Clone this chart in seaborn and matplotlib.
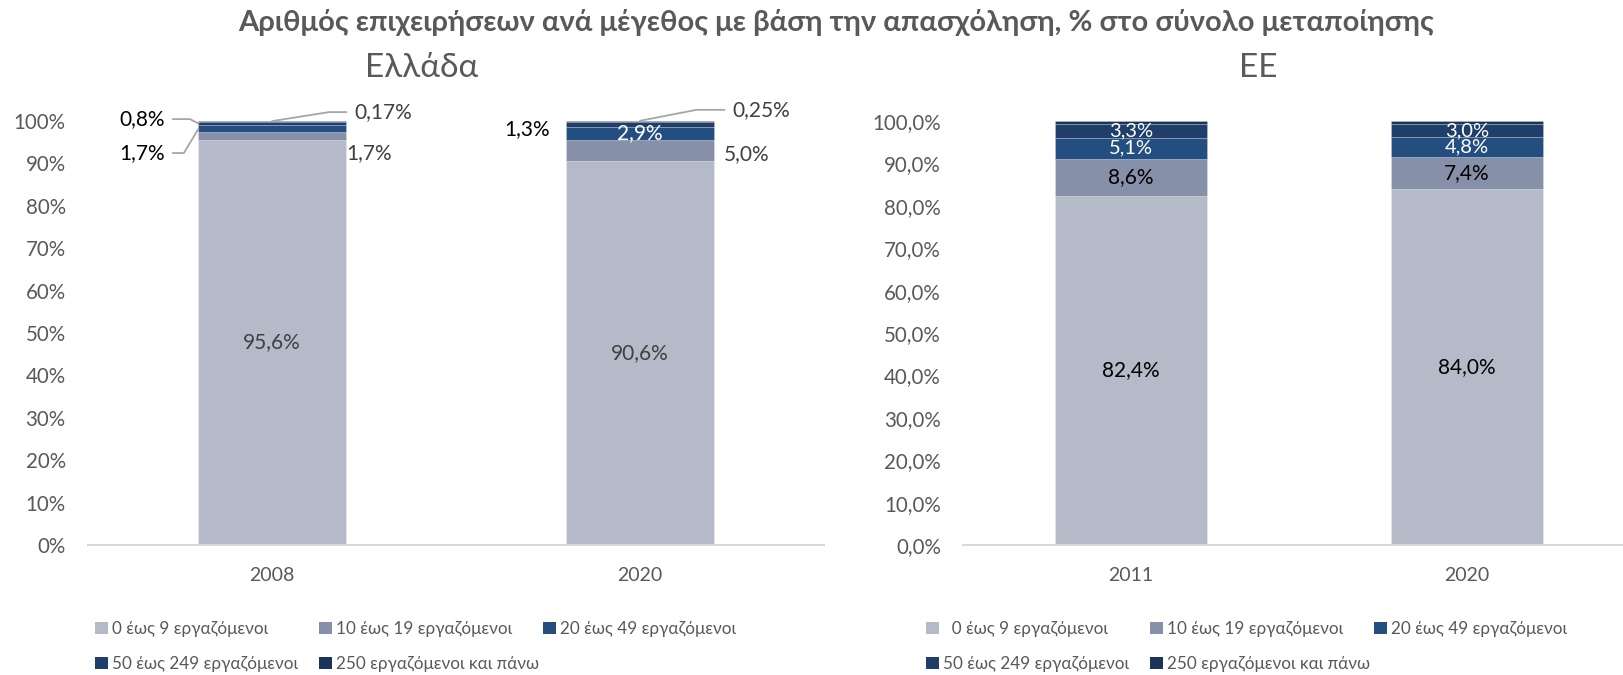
import numpy as np
import pandas as pd
import matplotlib
matplotlib.use("Agg")
import matplotlib.pyplot as plt
import seaborn as sns
from matplotlib.patches import Patch

sns.set_theme(style="white")
plt.rcParams['font.family'] = ['Lato', 'Noto Sans', 'DejaVu Sans']

# Size classes (employment) and their colours
size_classes = ["0 έως 9 εργαζόμενοι", "10 έως 19 εργαζόμενοι", "20 έως 49 εργαζόμενοι",
                "50 έως 249 εργαζόμενοι", "250 εργαζόμενοι και πάνω"]
colors = ["#B4BAC8", "#8690A8", "#244E80", "#1F3F6A", "#1B3459"]

# Greece
gr_years = ["2008", "2020"]
gr_0_9 = [95.6, 90.6]
gr_10_19 = [1.7, 5.0]
gr_20_49 = [1.7, 2.9]
gr_50_249 = [0.8, 1.3]
gr_250 = [0.17, 0.25]

# EU
eu_years = ["2011", "2020"]
eu_0_9 = [82.4, 84.0]
eu_10_19 = [8.6, 7.4]
eu_20_49 = [5.1, 4.8]
eu_50_249 = [3.3, 3.0]
eu_250 = [0.6, 0.8]

gr_ticks = ["0%", "10%", "20%", "30%", "40%", "50%", "60%", "70%", "80%", "90%", "100%"]
eu_ticks = ["0,0%", "10,0%", "20,0%", "30,0%", "40,0%", "50,0%", "60,0%", "70,0%", "80,0%", "90,0%", "100,0%"]

GREY = "#595959"
DARK = "#404040"
LEAD = "#A6A6A6"
LBL = 15


def pct(v, dec=1):
    return f"{v:.{dec}f}%".replace(".", ",")


def stacked(ax, years, series, width):
    bottom = np.zeros(len(years))
    conts = []
    for vals, col in zip(series, colors):
        df = pd.DataFrame({"year": years, "share": vals})
        sns.barplot(data=df, x="year", y="share", color=col, saturation=1,
                    width=width, bottom=bottom.copy(), errorbar=None, ax=ax,
                    edgecolor=(1, 1, 1, 0.25), linewidth=0.6)
        conts.append(ax.containers[-1])
        bottom += np.asarray(vals, dtype=float)
    return conts


def style_axes(ax, ticklabels, xlim, ypad):
    ax.set_ylim(0, 100)
    ax.set_xlim(*xlim)
    ax.set_yticks(np.arange(0, 101, 10))
    ax.set_yticklabels(ticklabels)
    ax.set_xlabel("")
    ax.set_ylabel("")
    for s in ["top", "right", "left"]:
        ax.spines[s].set_visible(False)
    ax.spines["bottom"].set_color("#D9D9D9")
    ax.spines["bottom"].set_linewidth(1.5)
    ax.tick_params(axis="y", length=0, pad=ypad, labelsize=14.8, labelcolor=GREY)
    ax.tick_params(axis="x", length=0, pad=16, labelsize=14, labelcolor=GREY)
    ax.grid(False)


fig = plt.figure(figsize=(16.24, 6.75), dpi=100)
fig.patch.set_facecolor("white")
W, H = 1624, 675
ax1 = fig.add_axes([88 / W, 130 / H, 736 / W, 424 / H])
ax2 = fig.add_axes([963 / W, 130 / H, 661 / W, 424 / H])

# --- Greece ---
gc = stacked(ax1, gr_years, [gr_0_9, gr_10_19, gr_20_49, gr_50_249, gr_250], 0.40)
style_axes(ax1, gr_ticks, (-0.5, 1.5), 16)

ax1.bar_label(gc[0], labels=[pct(v) for v in gr_0_9], label_type="center",
              fontsize=LBL, color=DARK)
ax1.bar_label(gc[2], labels=["", pct(gr_20_49[1])], label_type="center",
              fontsize=LBL, color="white")


def edge_mid(p, side):
    x = p.get_x() if side == "left" else p.get_x() + p.get_width()
    return (x, p.get_y() + p.get_height() / 2)


def top_mid(p):
    return (p.get_x() + p.get_width() / 2, p.get_y() + p.get_height())


lead = dict(arrowstyle="-", color=LEAD, lw=1.3, shrinkA=3, shrinkB=0)

# 2008
ax1.annotate(pct(gr_50_249[0]), xy=edge_mid(gc[3][0], "left"), xytext=(-23.8, 3.2),
             textcoords="offset points", ha="right", va="center", fontsize=LBL, color="black",
             arrowprops=dict(**lead, connectionstyle="angle,angleA=0,angleB=-28,rad=0"))
ax1.annotate(pct(gr_20_49[0]), xy=edge_mid(gc[2][0], "left"), xytext=(-23.8, -17.4),
             textcoords="offset points", ha="right", va="center", fontsize=LBL, color="black",
             arrowprops=dict(**lead, connectionstyle="angle,angleA=0,angleB=59,rad=0"))
ax1.annotate(pct(gr_10_19[0]), xy=edge_mid(gc[1][0], "right"), xytext=(0.7, -12.2),
             textcoords="offset points", ha="left", va="center", fontsize=LBL, color=DARK)
ax1.annotate(pct(gr_250[0], 2), xy=top_mid(gc[4][0]), xytext=(59, 6.5),
             textcoords="offset points", ha="left", va="center", fontsize=LBL, color=DARK,
             arrowprops=dict(**lead, connectionstyle="angle,angleA=0,angleB=9,rad=0"))
# 2020
ax1.annotate(pct(gr_250[1], 2), xy=top_mid(gc[4][1]), xytext=(66.2, 7.9),
             textcoords="offset points", ha="left", va="center", fontsize=LBL, color=DARK,
             arrowprops=dict(**lead, connectionstyle="angle,angleA=0,angleB=11,rad=0"))
ax1.annotate(pct(gr_50_249[1]), xy=edge_mid(gc[3][1], "left"), xytext=(-12.2, -3.2),
             textcoords="offset points", ha="right", va="center", fontsize=LBL, color="black")
ax1.annotate(pct(gr_10_19[1]), xy=edge_mid(gc[1][1], "right"), xytext=(7.2, -2.9),
             textcoords="offset points", ha="left", va="center", fontsize=LBL, color=DARK)

# --- EU ---
ec = stacked(ax2, eu_years, [eu_0_9, eu_10_19, eu_20_49, eu_50_249, eu_250], 0.45)
style_axes(ax2, eu_ticks, (-0.5, 1.467), 16)
ax2.bar_label(ec[0], labels=[pct(v) for v in eu_0_9], label_type="center",
              fontsize=LBL, color="black")
ax2.bar_label(ec[1], labels=[pct(v) for v in eu_10_19], label_type="center",
              fontsize=LBL, color="black")
ax2.bar_label(ec[2], labels=[pct(v) for v in eu_20_49], label_type="center",
              fontsize=14.5, color="white")
ax2.bar_label(ec[3], labels=[pct(v) for v in eu_50_249], label_type="center",
              fontsize=14.5, color="white")

# --- titles ---
fig.text(836 / W, 1 - 23 / H,
         "Αριθμός επιχειρήσεων ανά μέγεθος με βάση την απασχόληση, % στο σύνολο μεταποίησης",
         ha="center", va="center", fontsize=21, fontweight="bold", color=GREY)
fig.text(422 / W, 1 - 68 / H, "Ελλάδα", ha="center", va="center", fontsize=24, color=GREY)
fig.text(1258 / W, 1 - 68 / H, "ΕΕ", ha="center", va="center", fontsize=24, color=GREY)

# --- legends: fixed-width grid of entries, three per row ---
leg_kw = dict(frameon=False, fontsize=12.3, labelcolor=GREY,
              handlelength=0.75, handleheight=0.75, handletextpad=0.25,
              borderpad=0, borderaxespad=0, loc="center left")
col_step = 224
row_y = [629, 664]


def legend_grid(labels, x0):
    for i, (lab, col) in enumerate(zip(labels, colors)):
        r, c = divmod(i, 3)
        fig.legend([Patch(facecolor=col, edgecolor="none")], [lab],
                   bbox_to_anchor=((x0 + c * col_step) / W, 1 - row_y[r] / H), **leg_kw)


legend_grid(size_classes, 95)
legend_grid(["  " + size_classes[0]] + size_classes[1:], 926)

fig.savefig("out.png", dpi=100, facecolor="white")
